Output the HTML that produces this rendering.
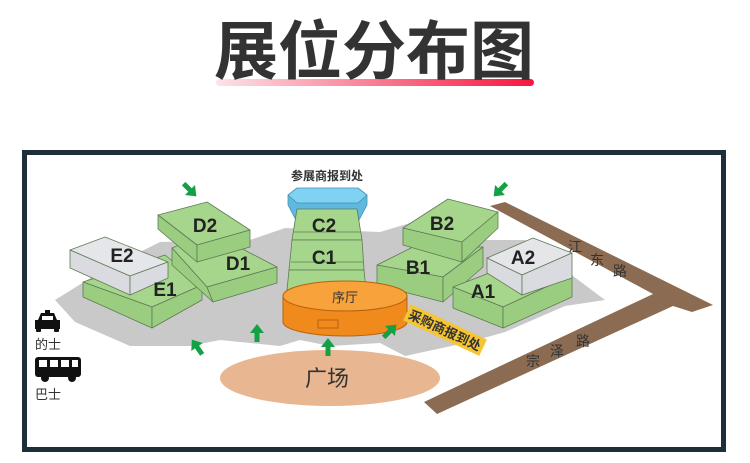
<!DOCTYPE html>
<html><head><meta charset="utf-8"><style>
html,body{margin:0;padding:0;background:#fff;width:750px;height:463px;overflow:hidden}
</style></head><body>
<svg width="750" height="463" viewBox="0 0 750 463" xmlns="http://www.w3.org/2000/svg" font-family="Liberation Sans, Noto Sans CJK SC, sans-serif">
<defs>
<linearGradient id="ul" x1="0" x2="1"><stop offset="0" stop-color="#fde3e8"/><stop offset="1" stop-color="#f5163e"/></linearGradient>
</defs>
<rect x="216" y="79" width="318" height="7" rx="3.5" fill="url(#ul)"/>
<text x="374" y="74" text-anchor="middle" font-size="64" font-weight="bold" fill="#333" font-family="Noto Sans CJK SC, sans-serif">展位分布图</text>
<rect x="24.5" y="152.5" width="699" height="297" fill="#fff" stroke="#1f2f3a" stroke-width="5"/>
<!-- ground -->
<path d="M55,300 L100,272 L160,242 L250,240 L285,228 L380,232 L420,220 L470,240 L525,240 L605,300 L565,306 L505,332 L470,342 L405,356 L380,343 L330,346 L300,340 L280,346 L220,340 L190,346 L130,346 L75,322 Z" fill="#c9c9c9"/>
<!-- roads -->
<path d="M490,206 L505,202 L713,305 L692,312 L673,306 L437,414 L424,402 L653,294 Z" fill="#8b6c52"/>
<g font-size="14" fill="#333" font-family="Noto Sans CJK SC, sans-serif">
<text x="568" y="252">江</text><text x="590" y="265">东</text><text x="613" y="276">路</text>
<text x="526" y="366">宗</text><text x="550" y="356">泽</text><text x="576" y="346">路</text>
</g>
<!-- plaza -->
<ellipse cx="330" cy="378" rx="110" ry="28" fill="#e8b690"/>
<text x="327" y="386" text-anchor="middle" font-size="22" fill="#333" font-family="Noto Sans CJK SC, sans-serif">广场</text>
<g stroke="#5e7a55" stroke-width="0.8" stroke-linejoin="round">
<!-- E1 -->
<polygon points="83,282 165,255 202,285 152,307" fill="#a6d68b"/>
<polygon points="83,282 152,307 152,328 83,297" fill="#9bcd80"/>
<polygon points="152,307 202,285 202,300 152,328" fill="#9bcd80"/>
<!-- E2 -->
<polygon points="70,250 105,237 168,262 130,276" fill="#e4e6ea"/>
<polygon points="70,250 130,276 130,295 70,268" fill="#d9dbe0"/>
<polygon points="130,276 168,262 168,278 130,295" fill="#d9dbe0"/>
<!-- D1 -->
<polygon points="172,248 210,232 277,267 207,287" fill="#a6d68b"/>
<polygon points="172,248 207,287 213,302 172,265" fill="#9bcd80"/>
<polygon points="207,287 277,267 277,283 213,302" fill="#9bcd80"/>
<!-- D2 -->
<polygon points="158,215 207,202 250,230 197,245" fill="#a6d68b"/>
<polygon points="158,215 197,245 197,262 158,229" fill="#9bcd80"/>
<polygon points="197,245 250,230 250,247 197,262" fill="#9bcd80"/>
<!-- blue -->
<polygon points="288,205 297,222 358,222 367,205 367,195 288,195" fill="#5fb8e0" stroke="#4a8fb0"/>
<polygon points="297,188 358,188 367,195 358,203 297,203 288,195" fill="#7fd2f2" stroke="#4a8fb0"/>
<!-- C stack -->
<polygon points="297,209 357,209 362,240 292,240" fill="#a6d68b"/>
<polygon points="292,240 362,240 364,270 289,270" fill="#a6d68b"/>
<polygon points="289,270 364,270 366,290 287,290" fill="#a6d68b"/>
<line x1="294" y1="232" x2="360" y2="232"/>
<line x1="291" y1="262" x2="363" y2="262"/>
<!-- B1 -->
<polygon points="377,265 413,247 483,247 443,277" fill="#a6d68b"/>
<polygon points="377,265 443,277 443,302 377,285" fill="#9bcd80"/>
<polygon points="443,277 483,247 483,267 443,302" fill="#9bcd80"/>
<!-- B2 -->
<polygon points="403,228 448,199 498,212 462,242" fill="#a6d68b"/>
<polygon points="403,228 462,242 462,262 403,245" fill="#9bcd80"/>
<polygon points="462,242 498,212 498,228 462,262" fill="#9bcd80"/>
<!-- A1 -->
<polygon points="453,287 497,270 572,275 503,307" fill="#a6d68b"/>
<polygon points="453,287 503,307 503,328 453,308" fill="#9bcd80"/>
<polygon points="503,307 572,275 572,297 503,328" fill="#9bcd80"/>
<!-- A2 -->
<polygon points="487,258 533,238 572,253 522,275" fill="#e4e6ea"/>
<polygon points="487,258 522,275 522,295 487,273" fill="#d9dbe0"/>
<polygon points="522,275 572,253 572,278 522,295" fill="#d9dbe0"/>
</g>
<!-- cylinder -->
<path d="M283,296 L283,322 A62,14 0 0 0 407,322 L407,296 Z" fill="#f08a1c" stroke="#b8630e"/>
<ellipse cx="345" cy="296" rx="62" ry="15" fill="#f7a23a" stroke="#b8630e"/>
<rect x="318" y="320" width="20" height="8" fill="none" stroke="#b8630e"/>
<g font-weight="bold" fill="#222">
<text x="205" y="232" text-anchor="middle" font-size="19">D2</text>
<text x="122" y="262" text-anchor="middle" font-size="19">E2</text>
<text x="238" y="270" text-anchor="middle" font-size="19">D1</text>
<text x="165" y="296" text-anchor="middle" font-size="19">E1</text>
<text x="324" y="232" text-anchor="middle" font-size="19">C2</text>
<text x="324" y="264" text-anchor="middle" font-size="19">C1</text>
<text x="442" y="230" text-anchor="middle" font-size="19">B2</text>
<text x="418" y="274" text-anchor="middle" font-size="19">B1</text>
<text x="523" y="264" text-anchor="middle" font-size="19">A2</text>
<text x="483" y="298" text-anchor="middle" font-size="19">A1</text>
</g>
<text x="345" y="302" text-anchor="middle" font-size="13" fill="#333" font-family="Noto Sans CJK SC, sans-serif">序厅</text>
<text x="327" y="180" text-anchor="middle" font-size="12" font-weight="bold" fill="#333" font-family="Noto Sans CJK SC, sans-serif">参展商报到处</text>
<g transform="translate(445,330) rotate(25)">
<rect x="-42" y="-9" width="84" height="18" fill="#f6c533"/>
<text x="0" y="5" text-anchor="middle" font-size="13" font-weight="bold" fill="#333" font-family="Noto Sans CJK SC, sans-serif">采购商报到处</text>
</g>
<!-- arrows -->
<g fill="#14a045">
<g transform="translate(190,190) rotate(135)"><polygon points="0,-9 7,0 2.5,0 2.5,9 -2.5,9 -2.5,0 -7,0"/></g>
<g transform="translate(500,190) rotate(-135)"><polygon points="0,-9 7,0 2.5,0 2.5,9 -2.5,9 -2.5,0 -7,0"/></g>
<g transform="translate(197,347) rotate(-35)"><polygon points="0,-9 7,0 2.5,0 2.5,9 -2.5,9 -2.5,0 -7,0"/></g>
<g transform="translate(257,333)"><polygon points="0,-9 7,0 2.5,0 2.5,9 -2.5,9 -2.5,0 -7,0"/></g>
<g transform="translate(328,347)"><polygon points="0,-9 7,0 2.5,0 2.5,9 -2.5,9 -2.5,0 -7,0"/></g>
<g transform="translate(390,331) rotate(45)"><polygon points="0,-9 7,0 2.5,0 2.5,9 -2.5,9 -2.5,0 -7,0"/></g>
</g>
<!-- taxi -->
<g fill="#111">
<rect x="45" y="310" width="5" height="3"/>
<path d="M41,313 L54,313 L57,320 L60,320 L60,329 L35,329 L35,320 L38,320 Z"/>
<rect x="36" y="328" width="5" height="4" rx="1"/><rect x="54" y="328" width="5" height="4" rx="1"/>
<rect x="35" y="357" width="46" height="20" rx="3"/>
<circle cx="45" cy="378" r="4"/><circle cx="72" cy="378" r="4"/>
</g>
<g fill="#fff"><rect x="39" y="360" width="8" height="7"/><rect x="50" y="360" width="8" height="7"/><rect x="61" y="360" width="8" height="7"/><rect x="72" y="360" width="6" height="7"/><rect x="42" y="316" width="11" height="4"/></g>
<g font-size="13" fill="#333" font-family="Noto Sans CJK SC, sans-serif">
<text x="35" y="349">的士</text>
<text x="35" y="399">巴士</text>
</g>
</svg>
</body></html>
